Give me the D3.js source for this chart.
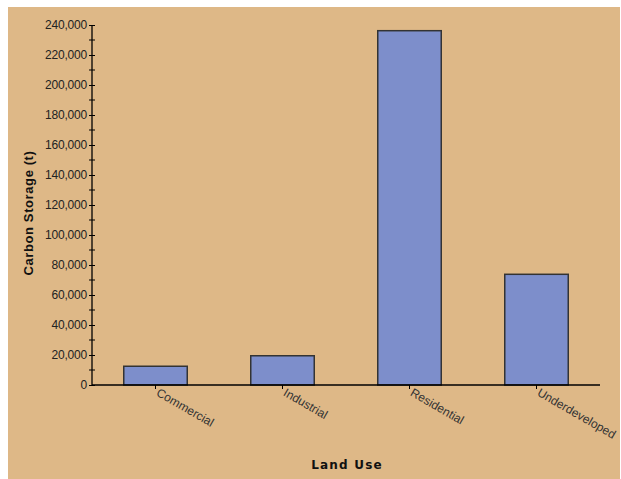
<!DOCTYPE html>
<html><head><meta charset="utf-8">
<script src="https://cdn.jsdelivr.net/npm/d3@7"></script>
<style>html,body{margin:0;padding:0;background:#fff;}svg{display:block;}</style>
</head><body>
<script>
const categories = ["Commercial", "Industrial", "Residential", "Underdeveloped"];
const values = [12500, 19500, 236200, 73800];
const yTicks = [0, 20000, 40000, 60000, 80000, 100000, 120000, 140000, 160000, 180000, 200000, 220000, 240000];
const xTitle = "Land Use";
const yTitle = "Carbon Storage (t)";

const W = 621, H = 479;
const svg = d3.select("body").append("svg").attr("width", W).attr("height", H);
svg.append("rect").attr("x", 8).attr("y", 7).attr("width", W - 9).attr("height", H - 7).attr("fill", "#DEB887");

const pL = 92, pR = 600, pT = 25, pB = 385;
const x = d3.scaleBand().domain(categories).range([pL, pR]).paddingInner(0.5).paddingOuter(0.25);
const y = d3.scaleLinear().domain([0, 240000]).range([pB, pT]);

// bars
svg.selectAll("rect.bar").data(categories).enter().append("rect")
  .attr("class", "bar")
  .attr("x", d => x(d))
  .attr("y", (d, i) => y(values[i]))
  .attr("width", x.bandwidth())
  .attr("height", (d, i) => y(0) - y(values[i]))
  .attr("fill", "#7D8ECB").attr("stroke", "#333").attr("stroke-width", 1.5);

// y axis
const yAxis = d3.axisLeft(y).tickValues(yTicks).tickSize(4).tickFormat(d3.format(","));
const gy = svg.append("g").attr("transform", `translate(${pL},0)`).call(yAxis);
gy.select(".domain").attr("stroke", "#000").attr("stroke-width", 1.3).attr("d", `M0,${pT}V${pB}`);
gy.selectAll(".tick line").attr("stroke", "#000").attr("x1", 3).attr("x2", -3);
gy.selectAll(".tick text").attr("x", -5).attr("font-family", "Liberation Sans, Arial, sans-serif")
  .attr("font-size", 12).attr("fill", "#222").style("letter-spacing", "-0.2px");
// minor ticks
const minor = d3.range(10000, 240000, 20000);
svg.append("g").selectAll("line").data(minor).enter().append("line")
  .attr("x1", pL - 3).attr("x2", pL + 3)
  .attr("y1", d => y(d)).attr("y2", d => y(d)).attr("stroke", "#000");

// x axis
const xAxis = d3.axisBottom(x).tickSize(4).tickFormat(d => d);
const gx = svg.append("g").attr("transform", `translate(0,${pB})`).call(xAxis);
gx.select(".domain").attr("stroke", "#000").attr("stroke-width", 1.3).attr("d", `M${pL},0H${pR}`);
gx.selectAll(".tick line").attr("stroke", "#000");
gx.selectAll(".tick text")
  .attr("font-family", "Liberation Sans, Arial, sans-serif").attr("font-size", 12).attr("fill", "#333")
  .attr("text-anchor", "start").attr("y", 0).attr("dy", 0)
  .attr("transform", "translate(0,10) rotate(30)");

// titles
svg.append("text").attr("x", 347).attr("y", 469).attr("text-anchor", "middle")
  .attr("font-family", "DejaVu Sans, sans-serif").attr("font-weight", "bold").attr("font-size", 12)
  .style("letter-spacing", "1.2px").attr("fill", "#111").text(xTitle);
svg.append("text").attr("transform", "translate(33,213) rotate(-90)").attr("text-anchor", "middle")
  .attr("font-family", "Liberation Sans, Arial, sans-serif").attr("font-weight", "bold").attr("font-size", 13)
  .style("letter-spacing", "0.6px").attr("fill", "#111").text(yTitle);
</script>
</body></html>
